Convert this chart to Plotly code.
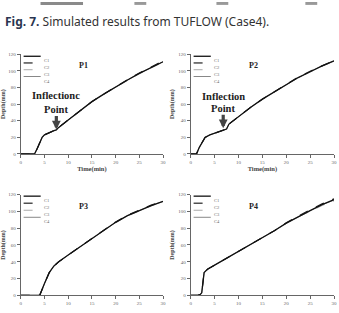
import plotly.graph_objects as go

# ---------------- data ----------------
P1_t  = [0, 2.9, 3.5, 4, 4.5, 5, 6, 7, 7.5, 8, 10, 12.5, 15, 17.5, 20, 22.5, 25, 27.5, 30]
P1_C1 = [0, 0, 7, 14, 20, 23, 26, 28, 29, 32, 41, 52, 63, 72, 81, 89, 97, 104, 111]
P1_C2 = [0, 0, 7, 14, 20, 23, 26, 28, 29, 32, 41, 52, 63, 72, 81, 89.5, 97.5, 105, 112]
P1_C3 = [0, 0, 7, 14, 20, 23, 26, 28, 29, 32, 41, 52, 63, 72, 80.5, 88.5, 96.5, 103.5, 110.5]
P1_C4 = [0, 0, 7, 14, 20, 23, 26, 28, 29, 32, 41, 52, 63, 72, 81, 89, 97, 104, 111]

P2_t  = [0, 1.2, 1.8, 2.5, 3, 4, 5, 6, 7, 7.5, 8, 10, 12.5, 15, 17.5, 20, 22.5, 25, 27.5, 30]
P2_C1 = [0, 0, 8, 16, 20, 23, 25, 27, 29, 30, 36, 45, 56, 66, 75, 84, 92, 99, 106, 112]
P2_C2 = [0, 0, 8, 16, 20, 23, 25, 27, 29, 30, 36, 45, 56, 66, 75, 84.5, 92.5, 99.5, 106.5, 112.5]
P2_C3 = [0, 0, 8, 16, 20, 23, 25, 27, 29, 30, 36, 45, 56, 66, 75, 83.5, 91.5, 98.5, 105.5, 111.5]
P2_C4 = [0, 0, 8, 16, 20, 23, 25, 27, 29, 30, 36, 45, 56, 66, 75, 84, 92, 99, 106, 112]

P3_t  = [0, 4, 5, 6, 7, 8, 10, 12.5, 15, 17.5, 20, 22.5, 25, 27.5, 30]
P3_C1 = [0, 0, 14, 27, 35, 40, 48, 58, 68, 78, 87, 95, 101, 107, 112]
P3_C2 = [0, 0, 14, 27, 35, 40, 48, 58, 68, 78, 87.5, 95.5, 101.5, 107.5, 112.5]
P3_C3 = [0, 0, 14, 27, 35, 40, 48, 58, 68, 78, 86.5, 94.5, 100.5, 106.5, 111.5]
P3_C4 = [0, 0, 14, 27, 35, 40, 48, 58, 68, 78, 87, 95, 101, 107, 112]

P4_t  = [0, 1.5, 2, 2.3, 2.8, 3.5, 5, 7.5, 10, 12.5, 15, 17.5, 20, 22.5, 25, 27.5, 30]
P4_C1 = [0, 0, 1, 3, 27, 31, 36, 44, 52, 60, 69, 77, 86, 94, 101, 108, 114]
P4_C2 = [0, 0, 1, 3, 27, 31, 36, 44, 52, 60, 69, 77, 86.5, 94.5, 102, 109, 115]
P4_C3 = [0, 0, 1, 3, 27, 31, 36, 44, 52, 60, 69, 77, 85.5, 93.5, 100, 107, 112.5]
P4_C4 = [0, 0, 1, 3, 27, 31, 36, 44, 52, 60, 69, 77, 86, 94, 101, 108, 113.5]

series_names = ["C1", "C2", "C3", "C4"]
panel_names = ["P1", "P2", "P3", "P4"]
x_ticks = [0, 5, 10, 15, 20, 25, 30]
y_ticks = [0, 20, 40, 60, 80, 100, 120]

panels = [
    (P1_t, [P1_C1, P1_C2, P1_C3, P1_C4]),
    (P2_t, [P2_C1, P2_C2, P2_C3, P2_C4]),
    (P3_t, [P3_C1, P3_C2, P3_C3, P3_C4]),
    (P4_t, [P4_C1, P4_C2, P4_C3, P4_C4]),
]

# ---------------- styles ----------------
W, H = 339, 313
styles = [
    dict(color="#111111", width=1.3, dash="solid"),
    dict(color="#222222", width=1.2, dash="dash"),
    dict(color="#aaaaaa", width=1.0, dash="dash"),
    dict(color="#888888", width=1.0, dash="solid"),
]
draw_order = [3, 2, 1, 0]

def px_dom(a, b, total):
    return [a / total, b / total]

x_domains = [px_dom(20, 164, W), px_dom(192, 337, W), px_dom(20, 164, W), px_dom(192, 337, W)]
y_domains = [
    [1 - 157 / H, 1 - 54 / H],
    [1 - 157 / H, 1 - 54 / H],
    [1 - 303 / H, 1 - 199 / H],
    [1 - 303 / H, 1 - 199 / H],
]

fig = go.Figure()
serif = "Liberation Serif"
axis_col = "#666666"

for i, (t, ser) in enumerate(panels):
    xa = "x" if i == 0 else f"x{i+1}"
    ya = "y" if i == 0 else f"y{i+1}"
    for k in draw_order:
        fig.add_trace(go.Scatter(
            x=t, y=ser[k], mode="lines", name=series_names[k],
            line=styles[k], xaxis=xa, yaxis=ya, showlegend=False,
            hoverinfo="skip"))
    xkey = "xaxis" if i == 0 else f"xaxis{i+1}"
    ykey = "yaxis" if i == 0 else f"yaxis{i+1}"
    fig.layout[xkey] = dict(
        domain=x_domains[i], anchor=ya, range=[0, 30], tickvals=x_ticks,
        showline=True, linecolor=axis_col, linewidth=1, ticks="outside",
        ticklen=3, tickcolor=axis_col, showgrid=False, zeroline=False,
        tickfont=dict(family=serif, size=5, color="#666"),
        title=dict(text="<b>Time(min)</b>" if i < 2 else "",
                   font=dict(family=serif, size=6.5, color="#444"), standoff=2),
    )
    fig.layout[ykey] = dict(
        domain=y_domains[i], anchor=xa, range=[0, 120], tickvals=y_ticks,
        showline=True, linecolor=axis_col, linewidth=1, ticks="outside",
        ticklen=3, tickcolor=axis_col, showgrid=False, zeroline=False,
        tickfont=dict(family=serif, size=5, color="#666"),
        title=dict(text="<b>Depth(mm)</b>", font=dict(family=serif, size=6, color="#444"),
                   standoff=3),
    )
    xd = "x domain" if i == 0 else f"x{i+1} domain"
    yd = "y domain" if i == 0 else f"y{i+1} domain"
    # panel title
    fig.add_annotation(text="<b>" + panel_names[i] + "</b>", xref=xd, yref=yd,
                       x=0.44, y=0.95, showarrow=False,
                       font=dict(family=serif, size=8, color="#222"))
    # legend inside panel
    rows = [0.98, 0.913, 0.845, 0.777] if i < 2 else [0.985, 0.915, 0.845, 0.775]
    for k in range(4):
        fig.add_shape(type="line", xref=xd, yref=yd, x0=0.02, x1=0.14,
                      y0=rows[k], y1=rows[k], line=styles[k])
        fig.add_annotation(text=series_names[k], xref=xd, yref=yd, x=0.15,
                           y=rows[k], xanchor="left", showarrow=False,
                           font=dict(family=serif, size=4.5, color="#666"))

# inflection point annotations (text lines + arrow)
infl = [
    ("x", "y", 7.5, ["Inflectionc", "Point"], [69.9, 53.6], 29.5),
    ("x2", "y2", 6.8, ["Inflection", "Point"], [68.7, 54.8], 31.0),
]
for xr, yr, tx, lines, ys, tip in infl:
    for txt, yy in zip(lines, ys):
        fig.add_annotation(text="<b>" + txt + "</b>", xref=xr, yref=yr, x=tx, y=yy,
                           showarrow=False,
                           font=dict(family=serif, size=10.5, color="#222"))
    fig.add_annotation(text="", xref=xr, yref=yr, x=tx, y=tip, ax=0, ay=-15,
                       showarrow=True, arrowhead=2, arrowsize=0.55, arrowwidth=3.2,
                       arrowcolor="#444")

# caption
fig.add_annotation(
    text="<span style='color:#2a3550'><b>Fig. 7.</b></span> Simulated results from TUFLOW (Case4).",
    xref="paper", yref="paper", x=2 / W, y=1 - 20 / H, xanchor="left",
    yanchor="middle", showarrow=False,
    font=dict(family="Noto Sans", size=12, color="#333"))

# remnants of the figure above (grey blocks at the top edge)
for a, b, c in [(40, 83, "#8a8a8a"), (135, 147, "#999"), (218, 230, "#999"), (308, 320, "#999")]:
    fig.add_shape(type="rect", xref="paper", yref="paper", x0=a / W, x1=b / W,
                  y0=1 - 3 / H, y1=1, line=dict(width=0), fillcolor=c)

fig.update_layout(
    width=W, height=H, margin=dict(l=0, r=0, t=0, b=0),
    paper_bgcolor="white", plot_bgcolor="white", showlegend=False,
)

fig.write_html("out.html")
